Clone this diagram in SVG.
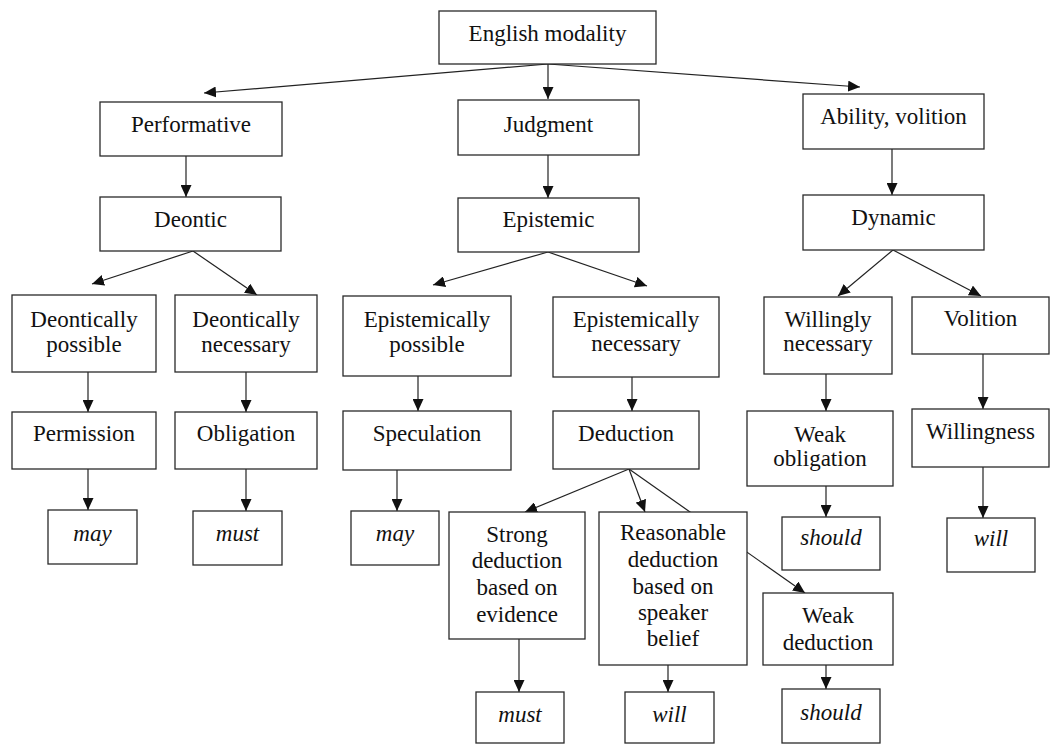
<svg xmlns="http://www.w3.org/2000/svg" width="1051" height="744" viewBox="0 0 1051 744" font-family="'Liberation Serif', 'DejaVu Serif', serif">
<defs>
<marker id="arr" markerUnits="userSpaceOnUse" markerWidth="12" markerHeight="11" refX="12" refY="5.5" orient="auto">
<path d="M0,0 L12,5.5 L0,11 Z" fill="#111"/>
</marker>
<style>
.b{fill:#fff;stroke:#2a2a2a;stroke-width:1.3}
.t{font-size:23px;fill:#111;text-anchor:middle}
.i{font-style:italic}
.c line{stroke:#222;stroke-width:1.2;marker-end:url(#arr)}
</style>
</defs>
<rect width="1051" height="744" fill="#fff"/>
<g id="connectors" class="c">
<line x1="548" y1="64" x2="204" y2="93"/>
<line x1="548" y1="64" x2="548" y2="99"/>
<line x1="548" y1="64" x2="860" y2="87"/>
<line x1="186" y1="156" x2="186" y2="197"/>
<line x1="548" y1="155" x2="548" y2="198"/>
<line x1="892" y1="149" x2="892" y2="195"/>
<line x1="193" y1="251" x2="92" y2="284"/>
<line x1="193" y1="251" x2="257" y2="295"/>
<line x1="548" y1="252" x2="433" y2="285"/>
<line x1="548" y1="252" x2="647" y2="286"/>
<line x1="893" y1="250" x2="838" y2="296"/>
<line x1="893" y1="250" x2="981" y2="296"/>
<line x1="88" y1="372" x2="88" y2="412"/>
<line x1="246" y1="372" x2="246" y2="412"/>
<line x1="418" y1="376" x2="418" y2="411"/>
<line x1="632" y1="377" x2="632" y2="411"/>
<line x1="826" y1="374" x2="826" y2="411"/>
<line x1="983" y1="354" x2="983" y2="409"/>
<line x1="88" y1="469" x2="88" y2="510"/>
<line x1="246" y1="469" x2="246" y2="511"/>
<line x1="397" y1="470" x2="397" y2="511"/>
<line x1="826" y1="486" x2="826" y2="517"/>
<line x1="983" y1="467" x2="983" y2="518"/>
<line x1="629" y1="469" x2="525" y2="512"/>
<line x1="629" y1="469" x2="645" y2="512"/>
<line x1="629" y1="469" x2="805" y2="593"/>
<line x1="519" y1="639" x2="519" y2="692"/>
<line x1="668" y1="665" x2="668" y2="692"/>
<line x1="826" y1="665" x2="826" y2="689"/>
</g>
<g id="english-modality"><rect class="b" x="439" y="11" width="217" height="53"/><text class="t" x="547.5" y="41">English modality</text></g>
<g id="performative"><rect class="b" x="100" y="102" width="182" height="54"/><text class="t" x="191" y="132">Performative</text></g>
<g id="judgment"><rect class="b" x="458" y="100" width="181" height="55"/><text class="t" x="548.5" y="132">Judgment</text></g>
<g id="ability-volition"><rect class="b" x="803" y="94" width="181" height="55"/><text class="t" x="893.5" y="124">Ability, volition</text></g>
<g id="deontic"><rect class="b" x="100" y="197" width="181" height="54"/><text class="t" x="190.5" y="227">Deontic</text></g>
<g id="epistemic"><rect class="b" x="458" y="198" width="181" height="54"/><text class="t" x="548.5" y="227">Epistemic</text></g>
<g id="dynamic"><rect class="b" x="803" y="195" width="181" height="55"/><text class="t" x="893.5" y="225">Dynamic</text></g>
<g id="deontically-possible"><rect class="b" x="12" y="295" width="144" height="77"/><text class="t" x="84" y="327">Deontically</text><text class="t" x="84" y="352">possible</text></g>
<g id="deontically-necessary"><rect class="b" x="175" y="295" width="142" height="77"/><text class="t" x="246" y="327">Deontically</text><text class="t" x="246" y="352">necessary</text></g>
<g id="epistemically-possible"><rect class="b" x="343" y="296" width="168" height="80"/><text class="t" x="427" y="327">Epistemically</text><text class="t" x="427" y="352">possible</text></g>
<g id="epistemically-necessary"><rect class="b" x="553" y="297" width="166" height="80"/><text class="t" x="636" y="327">Epistemically</text><text class="t" x="636" y="351">necessary</text></g>
<g id="willingly-necessary"><rect class="b" x="764" y="297" width="128" height="77"/><text class="t" x="828" y="327">Willingly</text><text class="t" x="828" y="351">necessary</text></g>
<g id="volition"><rect class="b" x="912" y="297" width="137" height="57"/><text class="t" x="980.5" y="326">Volition</text></g>
<g id="permission"><rect class="b" x="12" y="412" width="144" height="57"/><text class="t" x="84" y="441">Permission</text></g>
<g id="obligation"><rect class="b" x="175" y="412" width="142" height="57"/><text class="t" x="246" y="441">Obligation</text></g>
<g id="speculation"><rect class="b" x="343" y="411" width="168" height="59"/><text class="t" x="427" y="441">Speculation</text></g>
<g id="deduction"><rect class="b" x="553" y="411" width="146" height="58"/><text class="t" x="626" y="441">Deduction</text></g>
<g id="weak-obligation"><rect class="b" x="747" y="411" width="146" height="75"/><text class="t" x="820" y="442">Weak</text><text class="t" x="820" y="466">obligation</text></g>
<g id="willingness"><rect class="b" x="912" y="409" width="137" height="58"/><text class="t" x="980.5" y="439">Willingness</text></g>
<g id="may-1"><rect class="b" x="48" y="510" width="89" height="54"/><text class="t i" x="92.5" y="541">may</text></g>
<g id="must-1"><rect class="b" x="193" y="511" width="89" height="54"/><text class="t i" x="237.5" y="541">must</text></g>
<g id="may-2"><rect class="b" x="351" y="511" width="88" height="54"/><text class="t i" x="395" y="541">may</text></g>
<g id="strong-deduction"><rect class="b" x="449" y="512" width="136" height="127"/><text class="t" x="517" y="542">Strong</text><text class="t" x="517" y="568">deduction</text><text class="t" x="517" y="595">based on</text><text class="t" x="517" y="622">evidence</text></g>
<g id="reasonable-deduction"><rect class="b" x="599" y="512" width="148" height="153"/><text class="t" x="673" y="540">Reasonable</text><text class="t" x="673" y="567">deduction</text><text class="t" x="673" y="594">based on</text><text class="t" x="673" y="620">speaker</text><text class="t" x="673" y="646">belief</text></g>
<g id="should-1"><rect class="b" x="782" y="517" width="98" height="53"/><text class="t i" x="831" y="545">should</text></g>
<g id="will-1"><rect class="b" x="947" y="518" width="88" height="54"/><text class="t i" x="991" y="546">will</text></g>
<g id="weak-deduction"><rect class="b" x="763" y="593" width="130" height="72"/><text class="t" x="828" y="623">Weak</text><text class="t" x="828" y="650">deduction</text></g>
<g id="must-2"><rect class="b" x="476" y="692" width="88" height="51"/><text class="t i" x="520" y="722">must</text></g>
<g id="will-2"><rect class="b" x="625" y="692" width="89" height="51"/><text class="t i" x="669.5" y="722">will</text></g>
<g id="should-2"><rect class="b" x="782" y="689" width="98" height="54"/><text class="t i" x="831" y="720">should</text></g>
</svg>
